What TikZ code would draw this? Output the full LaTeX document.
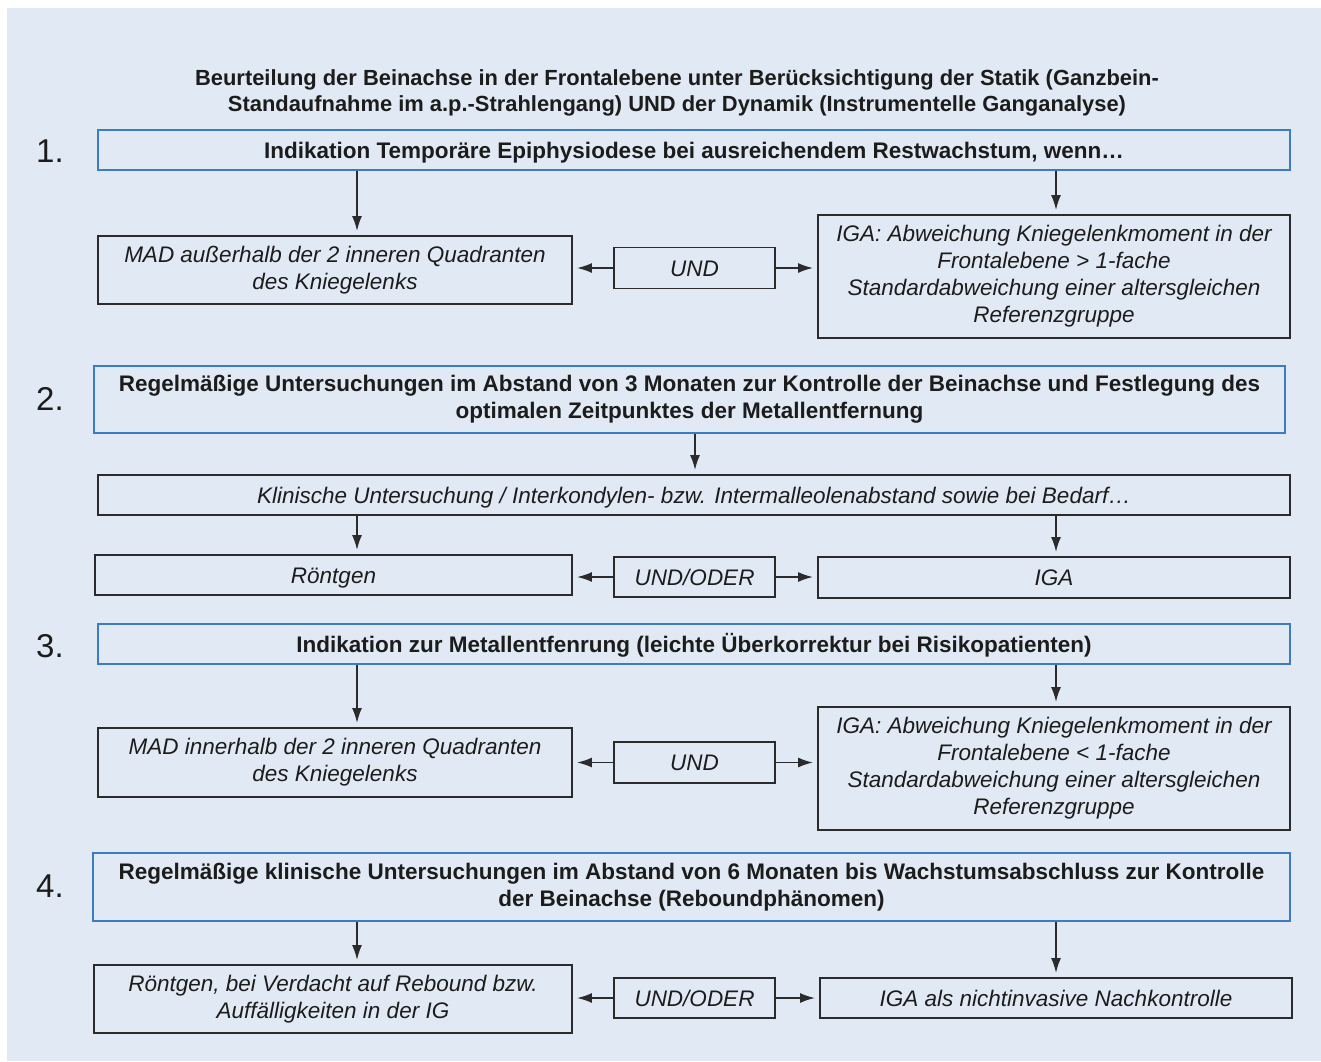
\documentclass[tikz,border=0pt]{standalone}
\usepackage{fontspec}
\setmainfont{Liberation Sans}
\usepackage{xcolor}
\usetikzlibrary{arrows.meta,positioning}
\definecolor{panelbg}{HTML}{E1EAF4}
\definecolor{headblue}{HTML}{3D7CC2}
\definecolor{boxline}{HTML}{2B2B2B}
\definecolor{inktext}{HTML}{1C1C1C}
\newcommand{\boxfont}{\fontsize{22.5}{27}\selectfont}

\begin{document}
\begin{tikzpicture}[x=1pt,y=-1pt,>={Latex[length=15pt,width=10pt]}, every node/.style={font=\boxfont, text=inktext}]
\tikzstyle{headbox}=[draw=headblue, line width=1.4pt, inner sep=0pt, align=center, font=\boxfont\bfseries, minimum width=1192pt]
\tikzstyle{infobox}=[draw=boxline, line width=1.8pt, inner sep=0pt, align=center, font=\boxfont\itshape]
\tikzstyle{oneline}=[text height=16pt, text depth=0pt]
\tikzstyle{stepnum}=[font=\fontsize{33}{36}\selectfont]
\tikzstyle{link}=[->, line width=1.9pt, draw=boxline, shorten >=4pt]
\useasboundingbox (0,0) rectangle (1321,1061);
\fill[panelbg] (7,8) rectangle (1321,1061);
% columns of the vertical arrows
\coordinate (lcol) at (357,0);
\coordinate (mcol) at (695,0);
\coordinate (rcol) at (1056,0);

\node[font=\fontsize{21.9}{26}\selectfont\bfseries, align=center] (title) at (677,93) {Beurteilung der Beinachse in der Frontalebene unter Berücksichtigung der Statik (Ganzbein-\\Standaufnahme im a.p.-Strahlengang) UND der Dynamik (Instrumentelle Ganganalyse)};

% 1.
\node[stepnum] (n1) at (50,151) {1.};
\node[headbox, oneline, minimum height=40pt] (b1) at (694,150) {Indikation Temporäre Epiphysiodese bei ausreichendem Restwachstum, wenn…};
\node[infobox, minimum width=474pt, minimum height=68pt] (mad1) at (335,270) {MAD außerhalb der 2 inneren Quadranten\\des Kniegelenks};
\node[infobox, oneline, minimum width=161pt, minimum height=41pt] (und1) at (694.5,268) {UND};
\node[infobox, minimum width=472pt, minimum height=123pt] (iga1) at (1054,276.5) {IGA: Abweichung Kniegelenkmoment in der\\Frontalebene > 1-fache\\Standardabweichung einer altersgleichen\\Referenzgruppe};
\draw[link] (b1.south -| lcol) -- (mad1.north -| lcol);
\draw[link] (b1.south -| rcol) -- (iga1.north -| rcol);
\draw[link] (und1.west) -- (und1.west -| mad1.east);
\draw[link] (und1.east) -- (und1.east -| iga1.west);

% 2.
\node[stepnum] (n2) at (50,399) {2.};
\node[headbox, minimum width=1191pt, minimum height=67pt] (b2) at (689.5,399.5) {Regelmäßige Untersuchungen im Abstand von 3 Monaten zur Kontrolle der Beinachse und Festlegung des\\optimalen Zeitpunktes der Metallentfernung};
\node[infobox, oneline, minimum width=1192pt, minimum height=40pt] (kl) at (694,495) {Klinische Untersuchung / Interkondylen- bzw. Intermalleolenabstand sowie bei Bedarf…};
\node[infobox, oneline, minimum width=477pt, minimum height=40pt] (rx2) at (333.5,575) {Röntgen};
\node[infobox, oneline, minimum width=161pt, minimum height=40pt] (uo2) at (694.5,577) {UND/ODER};
\node[infobox, oneline, minimum width=472pt, minimum height=41pt] (iga2) at (1054,577.5) {IGA};
\draw[link] (b2.south -| mcol) -- (kl.north -| mcol);
\draw[link] (kl.south -| lcol) -- (rx2.north -| lcol);
\draw[link] (kl.south -| rcol) -- (iga2.north -| rcol);
\draw[link] (uo2.west) -- (uo2.west -| rx2.east);
\draw[link] (uo2.east) -- (uo2.east -| iga2.west);

% 3.
\node[stepnum] (n3) at (50,646) {3.};
\node[headbox, oneline, minimum height=40pt] (b3) at (694,644) {Indikation zur Metallentfenrung (leichte Überkorrektur bei Risikopatienten)};
\node[infobox, minimum width=474pt, minimum height=69pt] (mad3) at (335,762.5) {MAD innerhalb der 2 inneren Quadranten\\des Kniegelenks};
\node[infobox, oneline, minimum width=161pt, minimum height=41pt] (und3) at (694.5,762.5) {UND};
\node[infobox, minimum width=472pt, minimum height=123pt] (iga3) at (1054,768.5) {IGA: Abweichung Kniegelenkmoment in der\\Frontalebene < 1-fache\\Standardabweichung einer altersgleichen\\Referenzgruppe};
\draw[link] (b3.south -| lcol) -- (mad3.north -| lcol);
\draw[link] (b3.south -| rcol) -- (iga3.north -| rcol);
\draw[link] (und3.west) -- (und3.west -| mad3.east);
\draw[link] (und3.east) -- (und3.east -| iga3.west);

% 4.
\node[stepnum] (n4) at (50,886) {4.};
\node[headbox, minimum width=1197pt, minimum height=68pt] (b4) at (691.5,887) {Regelmäßige klinische Untersuchungen im Abstand von 6 Monaten bis Wachstumsabschluss zur Kontrolle\\der Beinachse (Reboundphänomen)};
\node[infobox, minimum width=478pt, minimum height=68pt] (rx4) at (333,999) {Röntgen, bei Verdacht auf Rebound bzw.\\Auffälligkeiten in der IG};
\node[infobox, oneline, minimum width=161pt, minimum height=40pt] (uo4) at (694.5,998) {UND/ODER};
\node[infobox, oneline, minimum width=472pt, minimum height=40pt] (iga4) at (1056,998) {IGA als nichtinvasive Nachkontrolle};
\draw[link] (b4.south -| lcol) -- (rx4.north -| lcol);
\draw[link] (b4.south -| rcol) -- (iga4.north -| rcol);
\draw[link] (uo4.west) -- (uo4.west -| rx4.east);
\draw[link] (uo4.east) -- (uo4.east -| iga4.west);
\end{tikzpicture}
\end{document}
